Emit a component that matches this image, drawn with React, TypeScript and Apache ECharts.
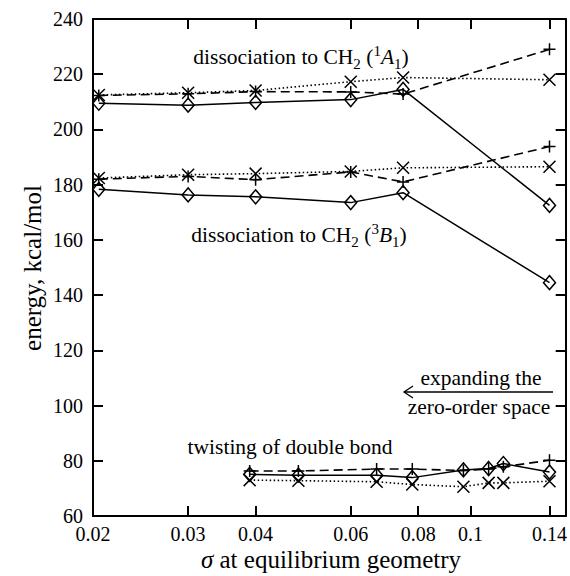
import React, { useEffect, useRef } from 'react';
import * as echarts from 'echarts';

// ---- data ----
const xTickValues = [0.02, 0.03, 0.04, 0.06, 0.08, 0.1, 0.14];
const yMin = 60;
const yMax = 240;
const yStep = 20;

// sigma values of the computed points
const xDiss = [0.0205, 0.03, 0.04, 0.06, 0.075, 0.14];
const xTwist = [0.039, 0.048, 0.067, 0.078, 0.097, 0.108, 0.115, 0.14];

// dissociation to CH2 (1A1)
const a1Diamond = [209.5, 208.8, 209.8, 210.8, 214.5, 172.5];
const a1Plus = [212.3, 212.9, 213.7, 213.6, 212.8, 229.0];
const a1Cross = [212.5, 213.3, 214.1, 217.3, 218.8, 218.0];

// dissociation to CH2 (3B1)
const b1Diamond = [178.3, 176.3, 175.6, 173.5, 177.1, 144.5];
const b1Plus = [182.0, 183.0, 181.8, 184.6, 181.0, 193.8];
const b1Cross = [182.4, 183.6, 184.0, 184.8, 186.1, 186.5];

// twisting of double bond
const twDiamond = [75.1, 74.8, 74.8, 73.9, 76.7, 77.2, 79.0, 75.9];
const twPlus = [76.3, 76.3, 77.0, 77.0, 76.5, 77.0, 77.8, 80.2];
const twCross = [73.0, 72.8, 72.4, 71.4, 70.6, 72.0, 72.0, 72.6];

const FONT = '"Liberation Serif", "Times New Roman", serif';
const PLUS = 'path://M0,6L12,6M6,0L6,12';
const CROSS = 'path://M0,0L12,12M12,0L0,12';

type Kind = 'diamond' | 'plus' | 'cross';

function makeSeries(xs: number[], ys: number[], kind: Kind) {
  const lineType: any = kind === 'diamond' ? 'solid' : kind === 'plus' ? [9, 5] : [1.5, 2.5];
  return {
    type: 'line',
    data: xs.map((x, i) => [x, ys[i]]),
    symbol: kind === 'diamond' ? 'diamond' : kind === 'plus' ? PLUS : CROSS,
    symbolSize: kind === 'diamond' ? [12, 14] : 12,
    lineStyle: { color: '#000', width: kind === 'diamond' ? 1.5 : 1.6, type: lineType },
    itemStyle: { color: 'rgba(0,0,0,0)', borderColor: '#000', borderWidth: 1.5 },
    emphasis: { disabled: true },
    silent: true,
    clip: false,
  };
}

function richFor(size: number) {
  const lh = Math.round(size * 1.3);
  const small = Math.round(size * 0.7);
  return {
    n: { fontSize: size, fontFamily: FONT, lineHeight: lh, fill: '#000' },
    it: { fontSize: size, fontFamily: FONT, fontStyle: 'italic', lineHeight: lh, fill: '#000' },
    sub: { fontSize: small, fontFamily: FONT, lineHeight: Math.round(size * 0.8), verticalAlign: 'bottom', fill: '#000' },
    sup: { fontSize: small, fontFamily: FONT, lineHeight: Math.round(size * 0.7), verticalAlign: 'top', fill: '#000' },
  };
}

function label(text: string, x: number, y: number, size: number, extra: any = {}) {
  return {
    type: 'text',
    x,
    y,
    silent: true,
    ...extra,
    style: {
      text,
      rich: richFor(size),
      fill: '#000',
      fontSize: size,
      fontFamily: FONT,
      align: 'center',
      verticalAlign: 'middle',
    },
  };
}

export default function App() {
  const ref = useRef<HTMLDivElement>(null);
  useEffect(() => {
    if (!ref.current) return;
    const chart = echarts.init(ref.current, null, { renderer: 'svg' });
    const axisLine = { show: true, onZero: false, lineStyle: { color: '#000', width: 2 } };
    const tick = { show: true, inside: true, length: 10, lineStyle: { color: '#000', width: 2 } };
    const fmt = (v: number) => String(Number(Number(v).toPrecision(3)));
    const ANN = 21.5;
    const TITLE = 25;
    chart.setOption({
      animation: false,
      backgroundColor: '#fff',
      grid: { left: 93, right: 3, top: 19, bottom: 60, containLabel: false },
      xAxis: [
        {
          type: 'log',
          logBase: 10,
          min: 0.02,
          max: 0.15,
          position: 'bottom',
          axisLine,
          axisTick: { ...tick, customValues: xTickValues.slice(1) },
          axisLabel: {
            customValues: xTickValues,
            formatter: fmt,
            color: '#000',
            fontSize: 20,
            fontFamily: FONT,
            margin: 8,
          },
          splitLine: { show: false },
          minorTick: { show: false },
        },
        {
          type: 'log',
          logBase: 10,
          min: 0.02,
          max: 0.15,
          position: 'top',
          axisLine,
          axisTick: { ...tick, customValues: xTickValues.slice(1) },
          axisLabel: { show: false },
          splitLine: { show: false },
        },
      ],
      yAxis: [
        {
          type: 'value',
          min: yMin,
          max: yMax,
          interval: yStep,
          position: 'left',
          axisLine,
          axisTick: tick,
          axisLabel: { color: '#000', fontSize: 20, fontFamily: FONT, margin: 10 },
          splitLine: { show: false },
        },
        {
          type: 'value',
          min: yMin,
          max: yMax,
          interval: yStep,
          position: 'right',
          axisLine,
          axisTick: tick,
          axisLabel: { show: false },
          splitLine: { show: false },
        },
      ],
      series: [
        makeSeries(xDiss, a1Diamond, 'diamond'),
        makeSeries(xDiss, a1Plus, 'plus'),
        makeSeries(xDiss, a1Cross, 'cross'),
        makeSeries(xDiss, b1Diamond, 'diamond'),
        makeSeries(xDiss, b1Plus, 'plus'),
        makeSeries(xDiss, b1Cross, 'cross'),
        makeSeries(xTwist, twDiamond, 'diamond'),
        makeSeries(xTwist, twPlus, 'plus'),
        makeSeries(xTwist, twCross, 'cross'),
      ],
      graphic: [
        label('{n|dissociation to CH}{sub|2}{n| (}{sup|1}{it|A}{sub|1}{n|)}', 301, 57, ANN),
        label('{n|dissociation to CH}{sub|2}{n| (}{sup|3}{it|B}{sub|1}{n|)}', 299, 235, ANN),
        label('{n|twisting of double bond}', 290, 447, ANN),
        label('{n|expanding the}', 481, 378, ANN),
        label('{n|zero-order space}', 479, 407, ANN),
        {
          type: 'line',
          silent: true,
          shape: { x1: 553, y1: 392, x2: 404, y2: 392 },
          style: { stroke: '#000', lineWidth: 1.3 },
        },
        {
          type: 'polyline',
          silent: true,
          shape: { points: [[413, 386], [404, 392], [413, 398]] },
          style: { stroke: '#000', lineWidth: 1.3, fill: 'none' },
        },
        label('{n|energy, kcal/mol}', 32, 268, TITLE, { rotation: Math.PI / 2 }),
        label('{it|σ}{n| at equilibrium geometry}', 331, 559, TITLE),
      ],
    });
    return () => chart.dispose();
  }, []);
  return (
    <div
      ref={ref}
      style={{ position: 'fixed', left: 0, top: 0, width: 570, height: 576, background: '#fff' }}
    />
  );
}
